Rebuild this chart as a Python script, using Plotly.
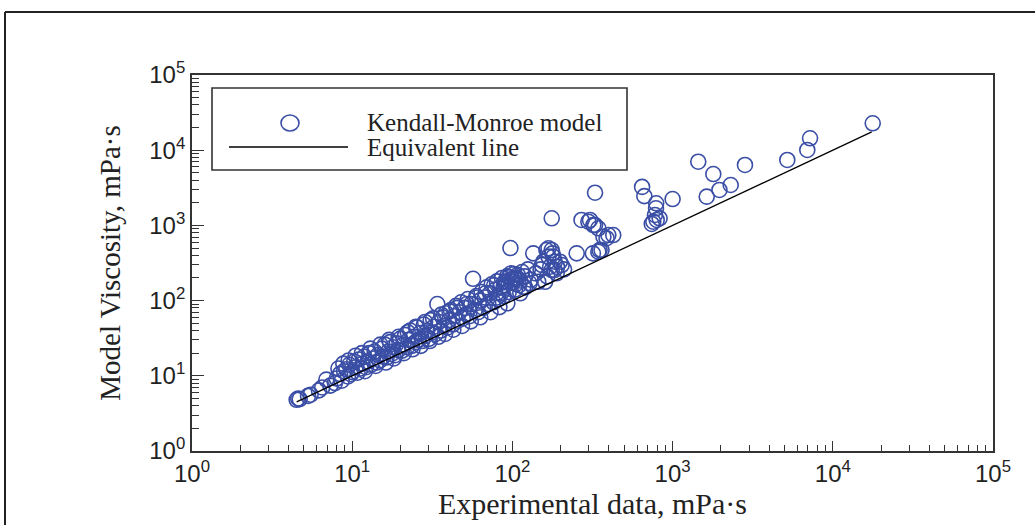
import plotly.graph_objects as go

# ---- data (experimental vs model viscosity, mPa·s) ----
exp_data = [
    4.5, 4.7, 4.6, 5.3, 5.5, 6.2, 6.5, 6.9, 7.3, 7.8, 8.0, 8.2, 8.4, 8.6, 8.9, 9.2, 9.4, 9.6, 9.8, 10.0,
    10.3, 10.5, 10.8, 11.0, 11.3, 11.6, 11.9, 12.2, 12.5, 12.8, 13.1, 13.5, 13.8, 14.2, 14.5, 14.9,
    15.3, 15.6, 16.0, 16.4, 16.8, 17.2, 17.6, 18.0, 18.5, 19.0, 19.4, 19.9,
    20.4, 20.9, 21.4, 22.0, 22.5, 23.0, 23.6, 24.2, 24.8, 25.4, 26.0, 26.6, 27.3, 28.0, 28.7, 29.4,
    30.1, 30.9, 31.6, 32.4, 33.2, 34.0, 34.8, 35.7, 36.6, 37.5, 38.4, 39.4,
    40.3, 41.3, 42.4, 43.4, 44.5, 45.6, 46.7, 47.9, 49.0, 50.2, 51.5, 52.7, 54.0, 55.4, 56.8, 58.2,
    59.6, 61.1, 62.6, 64.2, 65.8, 67.4, 69.1, 70.8, 72.5, 74.3, 76.2, 78.1, 80.0, 82.0, 84.0, 86.1,
    88.2, 90.4, 92.6, 94.9, 97.2, 99.6, 102, 104, 107, 110,
    8.8, 9.5, 10.5, 11.5, 12.0, 13.0, 14.0, 15.0, 16.2, 17.0, 18.2, 19.5, 21.0, 22.2, 23.8, 25.0,
    26.8, 28.5, 30.5, 32.0, 34.5, 36.0, 38.0, 40.5, 42.8, 45.0, 48.5, 52.0, 55.0, 60.0, 63.0, 68.0,
    73.0, 77.0, 83.0, 89.0, 93.0, 105, 112, 120, 128, 140, 150, 165, 190, 210,
    80, 85, 88, 92, 95, 98, 100, 103, 105, 108, 112, 115, 117, 120, 125, 130, 135, 145, 153, 156,
    160, 163, 168, 168, 172, 176, 176, 176, 178, 180, 183, 184, 189, 198, 203, 252, 270, 298, 305,
    318, 320, 328, 328, 344, 344, 350, 360, 370, 387, 397, 426,
    645, 666, 790, 788, 776, 758, 741, 796, 830, 1000, 1446, 1795, 2305, 1960, 1633, 2830, 5200,
    6930, 7210, 17750,
]
model_visc = [
    4.8, 4.9, 5.0, 5.4, 5.6, 6.4, 7.0, 8.9, 7.4, 8.0, 9.2, 12.5, 10.6, 8.6, 11.5, 12.2, 9.8, 14.0, 10.5, 11.2,
    15.5, 13.0, 11.0, 16.5, 12.5, 14.5, 18.0, 13.0, 15.5, 20.0, 14.0, 17.0, 21.0, 15.0, 19.0, 16.0,
    23.0, 18.0, 26.0, 17.5, 21.0, 28.0, 19.5, 24.0, 18.8, 27.0, 22.0, 31.0,
    21.5, 26.0, 35.0, 24.0, 30.0, 40.0, 25.0, 33.0, 28.0, 44.0, 30.0, 37.0, 29.0, 48.0, 34.0, 40.0,
    31.0, 55.0, 38.0, 45.0, 36.0, 90.0, 52.0, 40.0, 60.0, 46.0, 68.0, 44.0,
    55.0, 75.0, 48.0, 62.0, 85.0, 54.0, 70.0, 95.0, 58.0, 80.0, 66.0, 105.0, 62.0, 90.0, 195.0, 75.0,
    115.0, 70.0, 100.0, 130.0, 80.0, 110.0, 150.0, 90.0, 125.0, 165.0, 95.0, 140.0, 180.0, 105.0, 150.0, 200.0,
    115.0, 160.0, 210.0, 130.0, 500.0, 175.0, 225.0, 140.0, 200.0, 160.0,
    14.5, 16.0, 18.5, 20.0, 11.5, 23.0, 13.5, 26.0, 15.0, 30.0, 17.0, 33.0, 20.0, 38.0, 22.5, 45.0,
    25.0, 52.0, 29.0, 58.0, 33.0, 65.0, 36.0, 72.0, 41.0, 80.0, 46.0, 90.0, 53.0, 110.0, 60.0, 125.0,
    70.0, 160.0, 82.0, 175.0, 92.0, 190, 125, 150, 170, 230, 260, 210, 280, 260,
    110, 125, 150, 180, 205, 230, 195, 198, 165, 220, 185, 240, 153, 210, 260, 190, 425, 178, 297, 329,
    178, 470, 384, 496, 282, 470, 255, 1242, 425, 384, 255, 329, 231, 329, 297, 425, 1180, 1120, 1180,
    425, 1012, 2720, 1010, 915, 447, 470, 470, 708, 675, 745, 745,
    3250, 2450, 1970, 1690, 1375, 1120, 1045, 1180, 1240, 2240, 7030, 4820, 3445, 2960, 2410, 6360, 7410,
    10070, 14400, 22800,
]
line_x = [4.5, 17500]
line_y = [4.5, 17500]

tick_vals = [1, 10, 100, 1000, 10000, 100000]
tick_text = ["10<sup>0</sup>", "10<sup>1</sup>", "10<sup>2</sup>",
             "10<sup>3</sup>", "10<sup>4</sup>", "10<sup>5</sup>"]

legend_labels = ["Kendall-Monroe model", "Equivalent line"]

BLUE = "#3a4ea5"
INK = "#222222"
SERIF = "Liberation Serif, Times New Roman, serif"
SANS = "Liberation Sans, Arial, sans-serif"

# pixel geometry of the plot area (1035 x 525 canvas)
L, R, T, B = 192, 993, 75, 451
W, H = R - L, B - T


def px(xp):
    return (xp - L) / W


def py(yp):
    return (B - yp) / H


fig = go.Figure()
fig.add_trace(go.Scatter(
    x=exp_data, y=model_visc, mode="markers", name=legend_labels[0],
    marker=dict(symbol="circle-open", size=15, color=BLUE, line=dict(width=1.6)),
    showlegend=False,
))
fig.add_trace(go.Scatter(
    x=line_x, y=line_y, mode="lines", name=legend_labels[1],
    line=dict(color="black", width=1.3), showlegend=False,
))

axis_common = dict(
    type="log", showline=True, linecolor="#333333", linewidth=1.8, mirror=True,
    showgrid=False, zeroline=False, ticks="inside", tickcolor="#333333",
    tickvals=tick_vals, ticktext=tick_text,
    tickfont=dict(family=SANS, size=24, color=INK),
)

fig.update_xaxes(
    **axis_common, range=[0, 5], ticklen=10, tickwidth=1.3,
    minor=dict(ticks="inside", ticklen=6, dtick="D1", tickcolor="#333333", tickwidth=1.1),
    title=dict(text="Experimental data, mPa·s", font=dict(family=SERIF, size=30, color=INK), standoff=4),
)
fig.update_yaxes(
    **axis_common, range=[0, 5], ticklen=12, tickwidth=1.3,
    minor=dict(ticks="inside", ticklen=7, dtick="D1", tickcolor="#333333", tickwidth=1.1),
    title=dict(text="Model Viscosity, mPa·s", font=dict(family=SERIF, size=29, color=INK), standoff=20),
)

shapes = [
    # outer figure frame (top and left edges)
    dict(type="line", xref="paper", yref="paper", x0=px(5), x1=px(1035), y0=py(12), y1=py(12),
         line=dict(color="#222222", width=2)),
    dict(type="line", xref="paper", yref="paper", x0=px(5), x1=px(5), y0=py(12), y1=py(525),
         line=dict(color="#222222", width=2)),
    # legend box
    dict(type="rect", xref="paper", yref="paper", x0=px(212), x1=px(627), y0=py(170), y1=py(88),
         line=dict(color="#333333", width=1.6), fillcolor="white"),
    # legend symbols
    dict(type="circle", xref="paper", yref="paper", x0=px(281), x1=px(299), y0=py(131), y1=py(115),
         line=dict(color=BLUE, width=1.6)),
    dict(type="line", xref="paper", yref="paper", x0=px(229), x1=px(348), y0=py(147), y1=py(147),
         line=dict(color="black", width=1.3)),
]

annotations = [
    dict(text=legend_labels[0], xref="paper", yref="paper", x=px(365), y=py(123),
         xanchor="left", yanchor="middle", showarrow=False,
         font=dict(family=SERIF, size=25, color=INK)),
    dict(text=legend_labels[1], xref="paper", yref="paper", x=px(365), y=py(147),
         xanchor="left", yanchor="middle", showarrow=False,
         font=dict(family=SERIF, size=25, color=INK)),
]

fig.update_layout(
    width=1035, height=525,
    margin=dict(l=L, r=1035 - R, t=T, b=525 - B),
    paper_bgcolor="white", plot_bgcolor="white",
    shapes=shapes, annotations=annotations,
    showlegend=False,
)

fig.write_html(
    "out.html",
    config={"displayModeBar": False},
    post_script="document.body.style.margin='0';document.body.style.overflow='hidden';",
)
